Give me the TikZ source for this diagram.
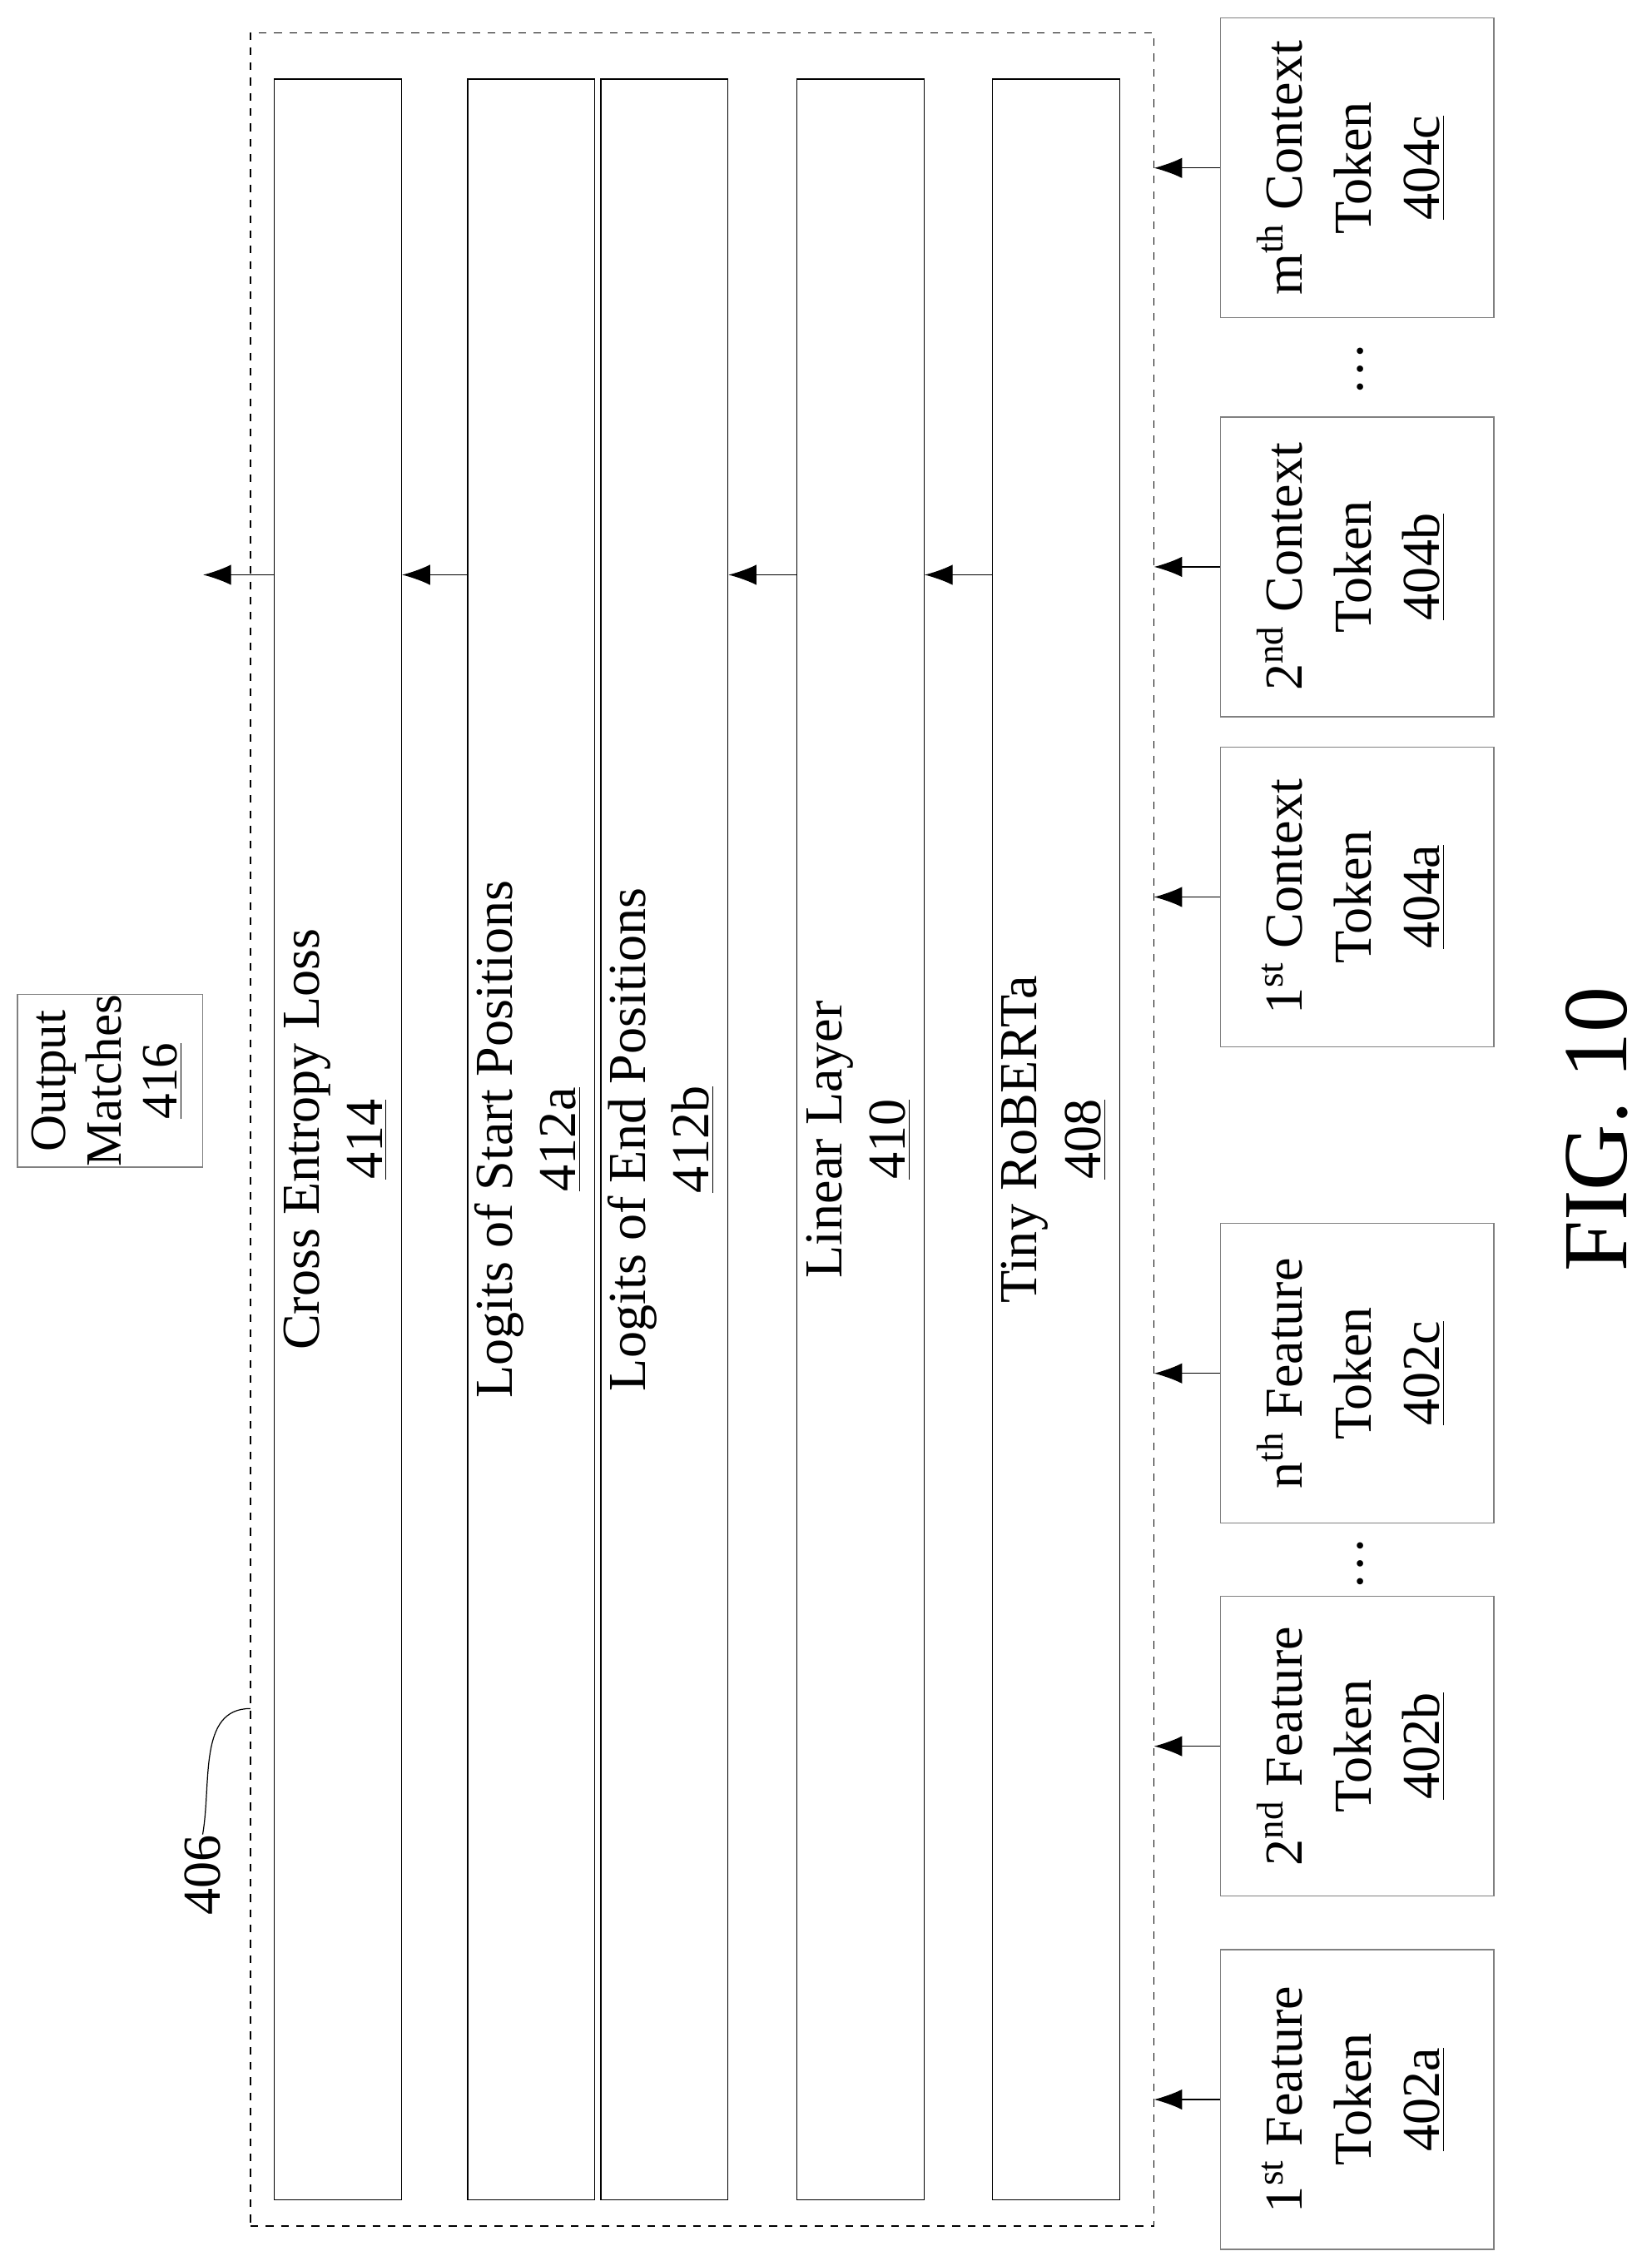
\documentclass[tikz,border=0pt]{standalone}
\usepackage{fontspec}
\setmainfont{Liberation Serif}
\usetikzlibrary{arrows.meta,positioning}

\newcommand{\rot}[1]{\rotatebox{90}{\begin{tabular}{@{}c@{}}#1\end{tabular}}}

\begin{document}
\begin{tikzpicture}[%
    x=0.02cm, y=-0.02cm,
    >={Latex[length=11pt,width=8pt]},
    every node/.style={font=\fontsize{21}{27}\selectfont, inner sep=0pt},
    bar/.style={draw, thin, font=\fontsize{21}{25}\selectfont, minimum width=1.7cm, minimum height=29.3cm},
    token/.style={draw, thin, gray, text=black, minimum width=3.78cm, minimum height=4.14cm},
    flow/.style={->, thin}
    ]

    \useasboundingbox (0,0) rectangle (1141,1565);

    % frame
    \node[draw, dashed, thin, minimum width=12.48cm, minimum height=30.3cm] (frame) at (485,780) {};

    % layers
    \node[bar] (loss)  at (233.5,787) {\rot{Cross Entropy Loss\\\underline{414}}};
    \node[bar] (start) at (367,787)   {\rot{Logits of Start Positions\\\underline{412a}}};
    \node[bar] (end)   at (459,787)   {\rot{Logits of End Positions\\\underline{412b}}};
    \node[bar] (lin)   at (594.5,787) {\rot{Linear Layer\\\underline{410}}};
    \node[bar] (tiny)  at (729.5,787) {\rot{Tiny RoBERTa\\\underline{408}}};

    \node[draw, thin, gray, text=black, font=\fontsize{20}{22}\selectfont, minimum width=2.56cm, minimum height=2.14cm] (out) at (76,746.5) {\rot{Output\\Matches\\\underline{416}}};

    % tokens
    \node[token] (c3) at (937.5,116)  {\rot{m\textsuperscript{th} Context\\Token\\\underline{404c}}};
    \node[token] (c2) at (937.5,391.5){\rot{2\textsuperscript{nd} Context\\Token\\\underline{404b}}};
    \node[token] (c1) at (937.5,619.5){\rot{1\textsuperscript{st} Context\\Token\\\underline{404a}}};
    \node[token] (f3) at (937.5,948.5){\rot{n\textsuperscript{th} Feature\\Token\\\underline{402c}}};
    \node[token] (f2) at (937.5,1206) {\rot{2\textsuperscript{nd} Feature\\Token\\\underline{402b}}};
    \node[token] (f1) at (937.5,1450) {\rot{1\textsuperscript{st} Feature\\Token\\\underline{402a}}};

    \node (d1) at (940,255)  {\rotatebox{90}{\dots}};
    \node (d2) at (940,1080) {\rotatebox{90}{\dots}};

    \foreach \t in {c3,c2,c1,f3,f2,f1}
        \draw[flow] (\t.west) -- (\t.west -| frame.east);

    \coordinate (a) at (0,397);
    \draw[flow] (tiny.west |- a) -- (lin.east |- a);
    \draw[flow] (lin.west |- a) -- (end.east |- a);
    \draw[flow] (start.west |- a) -- (loss.east |- a);
    \draw[flow] (loss.west |- a) -- (out.east |- a);

    % reference numeral
    \node (n406) at (140,1295) {\rotatebox{90}{406}};
    \coordinate (c406) at (173,1180);
    \draw[thin] (n406.north) to[out=80, in=180] (c406);

    \node[font=\fontsize{36}{40}\selectfont] (fig) at (1103,780) {\rotatebox{90}{FIG. 10}};

\end{tikzpicture}
\end{document}
